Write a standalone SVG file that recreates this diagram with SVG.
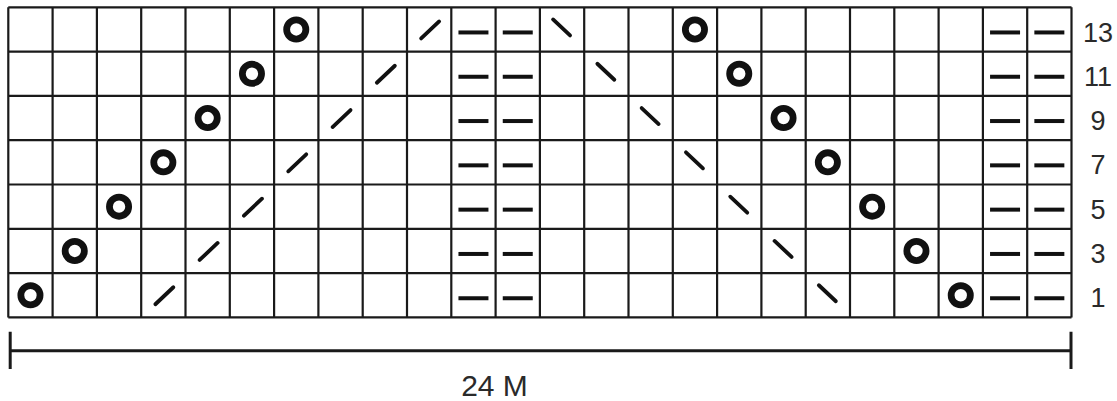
<svg xmlns="http://www.w3.org/2000/svg" xmlns:xlink="http://www.w3.org/1999/xlink" width="1117" height="401" viewBox="0 0 1117 401">
<style>
.grid{fill:none;stroke:#1a1a1a;stroke-width:2.2}
.lbl{font-family:"Liberation Sans",Arial,sans-serif;font-size:27px;fill:#2a2a2a;text-anchor:middle}
.cap{font-family:"Liberation Sans",Arial,sans-serif;font-size:30px;fill:#2a2a2a;text-anchor:middle}
.bar{stroke:#1a1a1a;stroke-width:3;fill:none}
</style>
<defs>
<circle id="o" r="9.6" fill="none" stroke="#111" stroke-width="6.8"/>
<line id="sl" x1="-8" y1="9" x2="10" y2="-8" stroke="#111" stroke-width="3.8" stroke-linecap="round"/>
<line id="bs" x1="-9" y1="-10" x2="8" y2="6" stroke="#111" stroke-width="3.8" stroke-linecap="round"/>
<line id="d" x1="-15" y1="3" x2="15" y2="3" stroke="#111" stroke-width="4"/>
</defs>
<rect width="1117" height="401" fill="#fff"/>
<g id="grid">
<path class="grid" d="M8.3 7.3V317.4M52.6 7.3V317.4M96.9 7.3V317.4M141.2 7.3V317.4M185.5 7.3V317.4M229.8 7.3V317.4M274.1 7.3V317.4M318.4 7.3V317.4M362.7 7.3V317.4M407 7.3V317.4M451.3 7.3V317.4M495.6 7.3V317.4M539.9 7.3V317.4M584.2 7.3V317.4M628.5 7.3V317.4M672.8 7.3V317.4M717.1 7.3V317.4M761.4 7.3V317.4M805.7 7.3V317.4M850 7.3V317.4M894.3 7.3V317.4M938.6 7.3V317.4M982.9 7.3V317.4M1027.2 7.3V317.4M1071.5 7.3V317.4M8.3 7.3H1071.5M8.3 51.6H1071.5M8.3 95.9H1071.5M8.3 140.2H1071.5M8.3 184.5H1071.5M8.3 228.8H1071.5M8.3 273.1H1071.5M8.3 317.4H1071.5"/>
</g>
<g id="row13">
<use href="#o" x="296.25" y="29.45"/><use href="#sl" x="429.15" y="29.45"/><use href="#d" x="473.45" y="29.45"/><use href="#d" x="517.75" y="29.45"/><use href="#bs" x="562.05" y="29.45"/><use href="#o" x="694.95" y="29.45"/><use href="#d" x="1005.05" y="29.45"/><use href="#d" x="1049.35" y="29.45"/>
</g>
<g id="row11">
<use href="#o" x="251.95" y="73.75"/><use href="#sl" x="384.85" y="73.75"/><use href="#d" x="473.45" y="73.75"/><use href="#d" x="517.75" y="73.75"/><use href="#bs" x="606.35" y="73.75"/><use href="#o" x="739.25" y="73.75"/><use href="#d" x="1005.05" y="73.75"/><use href="#d" x="1049.35" y="73.75"/>
</g>
<g id="row9">
<use href="#o" x="207.65" y="118.05"/><use href="#sl" x="340.55" y="118.05"/><use href="#d" x="473.45" y="118.05"/><use href="#d" x="517.75" y="118.05"/><use href="#bs" x="650.65" y="118.05"/><use href="#o" x="783.55" y="118.05"/><use href="#d" x="1005.05" y="118.05"/><use href="#d" x="1049.35" y="118.05"/>
</g>
<g id="row7">
<use href="#o" x="163.35" y="162.35"/><use href="#sl" x="296.25" y="162.35"/><use href="#d" x="473.45" y="162.35"/><use href="#d" x="517.75" y="162.35"/><use href="#bs" x="694.95" y="162.35"/><use href="#o" x="827.85" y="162.35"/><use href="#d" x="1005.05" y="162.35"/><use href="#d" x="1049.35" y="162.35"/>
</g>
<g id="row5">
<use href="#o" x="119.05" y="206.65"/><use href="#sl" x="251.95" y="206.65"/><use href="#d" x="473.45" y="206.65"/><use href="#d" x="517.75" y="206.65"/><use href="#bs" x="739.25" y="206.65"/><use href="#o" x="872.15" y="206.65"/><use href="#d" x="1005.05" y="206.65"/><use href="#d" x="1049.35" y="206.65"/>
</g>
<g id="row3">
<use href="#o" x="74.75" y="250.95"/><use href="#sl" x="207.65" y="250.95"/><use href="#d" x="473.45" y="250.95"/><use href="#d" x="517.75" y="250.95"/><use href="#bs" x="783.55" y="250.95"/><use href="#o" x="916.45" y="250.95"/><use href="#d" x="1005.05" y="250.95"/><use href="#d" x="1049.35" y="250.95"/>
</g>
<g id="row1">
<use href="#o" x="30.45" y="295.25"/><use href="#sl" x="163.35" y="295.25"/><use href="#d" x="473.45" y="295.25"/><use href="#d" x="517.75" y="295.25"/><use href="#bs" x="827.85" y="295.25"/><use href="#o" x="960.75" y="295.25"/><use href="#d" x="1005.05" y="295.25"/><use href="#d" x="1049.35" y="295.25"/>
</g>
<g id="labels">
<text class="lbl" x="1098" y="41.5">13</text>
<text class="lbl" x="1098" y="85.8">11</text>
<text class="lbl" x="1098" y="130.1">9</text>
<text class="lbl" x="1098" y="174.4">7</text>
<text class="lbl" x="1098" y="218.7">5</text>
<text class="lbl" x="1098" y="263">3</text>
<text class="lbl" x="1098" y="307.3">1</text>
</g>
<g id="scale">
<path class="bar" d="M10.2 350.8H1071M10.2 331.7V369M1071 331.7V369"/>
<text class="cap" x="494.5" y="396">24 M</text>
</g>
</svg>
